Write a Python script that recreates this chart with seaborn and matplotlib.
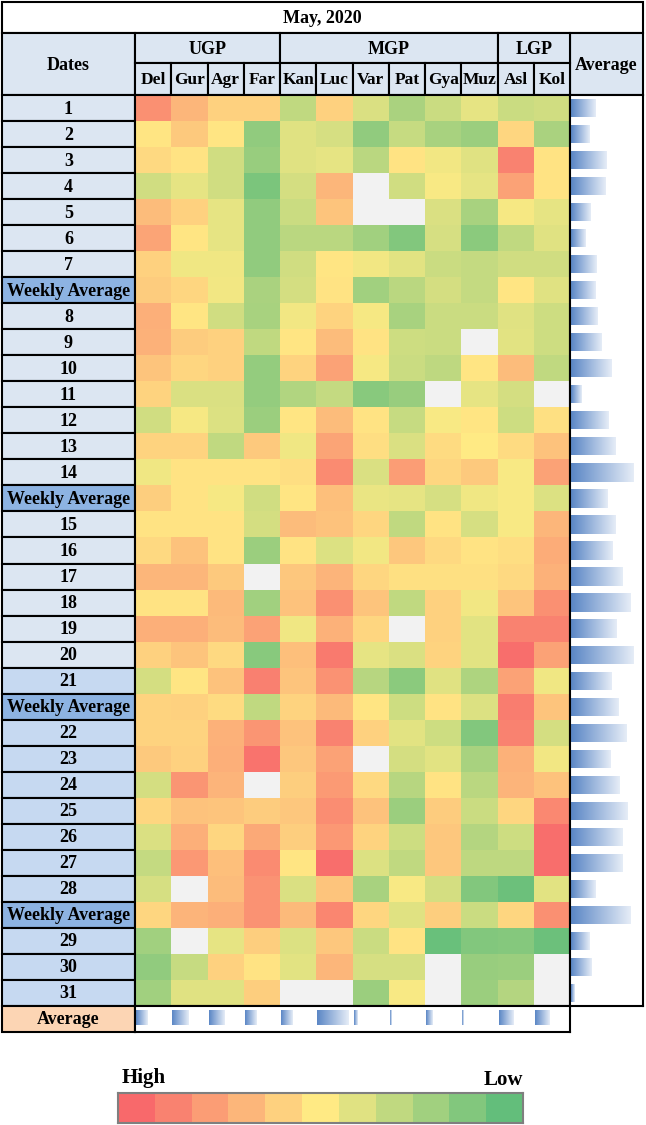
import numpy as np
import pandas as pd
import matplotlib
matplotlib.use('Agg')
import matplotlib.pyplot as plt
import seaborn as sns
from matplotlib.colors import LinearSegmentedColormap
from matplotlib.patches import Rectangle

nan = np.nan

# ---- data (levels: 0 = low/green, 10 = high/red) ----
stations = ['Del', 'Gur', 'Agr', 'Far', 'Kan', 'Luc', 'Var', 'Pat', 'Gya', 'Muz', 'Asl', 'Kol']
regions = ['UGP', 'MGP', 'LGP']
region_sizes = [4, 6, 2]

row_labels = (['1', '2', '3', '4', '5', '6', '7', 'Weekly Average',
               '8', '9', '10', '11', '12', '13', '14', 'Weekly Average',
               '15', '16', '17', '18', '19', '20', '21', 'Weekly Average',
               '22', '23', '24', '25', '26', '27', '28', 'Weekly Average',
               '29', '30', '31'])

del_vals = [8.5, 5.2, 5.7, 3.5, 6.8, 7.7, 6, 6.2, 7.3, 7.2, 6.5, 5.9, 3.5, 5.9, 4.5, 6.1, 5.3, 5.7, 7, 5.3, 7.3, 6, 3.6, 5.9, 5.9, 6.3, 3.6, 5.8, 3.8, 3.1, 3.7, 5.8, 2, 1.5, 2]
gur_vals = [7, 6.3, 5.3, 4.2, 6, 5.2, 4.5, 5.8, 5.2, 6.2, 5.8, 3.8, 4.7, 5.9, 5.3, 5.3, 5.3, 6.6, 7, 5.3, 7.3, 6.5, 5.2, 6, 5.9, 6, 8.3, 6.6, 7.3, 8.2, nan, 7.1, nan, 3.2, 4]
agr_vals = [6, 5.2, 3.5, 3.5, 4.2, 4.2, 4.5, 4.6, 3.5, 6, 6, 3.8, 3.9, 3, 5.3, 4.7, 5.3, 5.3, 6.3, 6.9, 6.8, 5.7, 6.6, 5.6, 7.2, 7.3, 7.1, 6.5, 5.8, 6.7, 6.8, 7.3, 4.2, 6, 4]
far_vals = [6, 1.5, 1.7, 0.8, 1.5, 1.5, 1.5, 2.3, 2.2, 3, 1.6, 1.6, 1.8, 6.3, 5.3, 3.5, 3.6, 1.8, nan, 2, 7.8, 1.2, 9.1, 3, 8.3, 9.6, nan, 6.2, 7.5, 8.7, 8.4, 8.4, 6.1, 5.3, 6.1]
kan_vals = [3, 4, 4, 3.6, 3.3, 2.8, 3.5, 3.6, 4.6, 5.2, 5.9, 2.5, 5.2, 4.5, 5.5, 5.2, 6.8, 5.3, 6.4, 6.6, 4.5, 6.7, 6.5, 5.9, 6.6, 6.4, 6.1, 6.4, 6.1, 5.2, 3.8, 6.9, 3.9, 4.1, nan]
luc_vals = [6, 3.7, 4.2, 7, 6.5, 2.8, 5.2, 5.3, 5.9, 6.8, 7.8, 3.1, 6.8, 7.7, 8.7, 6.7, 6.6, 3.9, 7.1, 8.5, 7.2, 9.3, 8.4, 6.9, 9, 7.8, 8.1, 8.6, 8.2, 9.8, 6.5, 8.9, 6.4, 7, nan]
var_vals = [3.8, 1.5, 2.8, nan, nan, 2, 4.6, 2, 4.7, 5.3, 4.7, 1.2, 5.3, 5.5, 3.8, 4.3, 5.8, 4.6, 5.8, 6.5, 5.8, 4.2, 2.7, 5.2, 6, nan, 5.7, 6.6, 5.9, 3.9, 2.2, 5.8, 3.3, 3.7, 1.8]
pat_vals = [2.3, 3.2, 5.3, 3.5, nan, 1, 4.1, 2.8, 2.2, 3.4, 3.3, 1.7, 3.2, 3.8, 8, 4.2, 3, 6.4, 5.4, 3, nan, 3.8, 1.3, 3.4, 4.1, 3.6, 2.7, 1.8, 3.4, 3, 4.8, 4, 5.3, 3.7, 4.8]
gya_vals = [3.3, 2.2, 4.6, 4.8, 3.8, 3.7, 3.3, 3.6, 3.3, 3.3, 2.9, nan, 4.8, 5.6, 5.8, 3.7, 5.3, 5.7, 5.4, 6, 6, 5.9, 4, 5.3, 3.4, 4.1, 5.3, 6.2, 6.4, 6.4, 3.6, 6.1, 0.2, nan, nan]
muz_vals = [4.2, 1.8, 4, 4.2, 2.2, 1.3, 3.1, 3.1, 3.3, nan, 5.2, 4.2, 5.2, 5, 6.3, 4.5, 3.7, 5.3, 5.4, 4.6, 4.1, 4.1, 2.4, 3.9, 1, 2.2, 2.8, 3.3, 2.6, 2.9, 1, 3.3, 1, 1.7, 1.8]
asl_vals = [3.3, 5.8, 9, 7.8, 4.7, 3, 3.5, 5.2, 4, 4.1, 6.8, 3.6, 3.4, 5.6, 4.8, 4.8, 4.8, 5.5, 5.7, 6.5, 9, 9.8, 7.8, 9.2, 9, 7.2, 7.1, 5.8, 3.4, 2.9, 0.3, 5.8, 1.1, 1.8, 2.6]
kol_vals = [3.5, 2.3, 5.3, 5.3, 4.2, 4, 3.5, 4, 3.4, 3.4, 3, nan, 5.4, 6.6, 7.8, 3.9, 7, 7.4, 7.2, 8.5, 9, 7.8, 4.5, 6.5, 3.6, 4.6, 6.6, 8.8, 9.8, 9.8, 4.1, 8.5, 0.3, nan, nan]

# data-bar lengths of the Average column (per row) and Average row (per station)
row_avg = [25, 19, 36, 35, 20, 15, 26, 25, 27, 31, 41, 11, 38, 45, 63, 37,
           45, 42, 52, 60, 46, 63, 41, 48, 56, 40, 49, 57, 52, 52, 25, 60, 19, 21, 4]
col_avg = [12, 17, 16, 12, 12, 32, 4, 2, 7, 2, 15, 15]

legend_levels = [10, 9, 8, 7, 6, 5, 4, 3, 2, 1, 0]

# ---- build frames ----
heat = pd.DataFrame({'Del': del_vals, 'Gur': gur_vals, 'Agr': agr_vals, 'Far': far_vals,
                     'Kan': kan_vals, 'Luc': luc_vals, 'Var': var_vals, 'Pat': pat_vals,
                     'Gya': gya_vals, 'Muz': muz_vals, 'Asl': asl_vals, 'Kol': kol_vals})[stations]
avg_df = pd.DataFrame({'row': np.arange(len(row_avg)), 'avg': row_avg})

plt.rcParams['font.family'] = ['Liberation Serif', 'DejaVu Serif']

cmap = LinearSegmentedColormap.from_list('rdylgn_xl', ['#63BE7B', '#FFEB84', '#F8696B'])
bar_cmap = LinearSegmentedColormap.from_list('databar', ['#5a86c5', '#e6edf7'])

W, H = 646, 1125
fig = plt.figure(figsize=(W / 100, H / 100), dpi=100)


def px_axes(x0, y0, x1, y1):
    return fig.add_axes([x0 / W, 1 - y1 / H, (x1 - x0) / W, (y1 - y0) / H])


# layout in pixels
L0, L1 = 2, 135
HX0, HX1 = 135, 570
AX1 = 643
Y_T0, Y_H0, Y_H1, Y_D0, Y_D1, Y_A1 = 2, 33, 63, 95, 1006, 1032
n_rows = len(row_labels)
row_h = (Y_D1 - Y_D0) / n_rows
col_w = (HX1 - HX0) / len(stations)
LW = 1.5
HEAD = '#dce6f2'
FS = 13

tab = px_axes(0, 0, W, H)
tab.set_xlim(0, W)
tab.set_ylim(H, 0)
tab.axis('off')


def cell(x0, y0, x1, y1, fc, text=None, fs=FS):
    tab.add_patch(Rectangle((x0, y0), x1 - x0, y1 - y0, facecolor=fc, edgecolor='black', lw=LW))
    if text:
        tab.text((x0 + x1) / 2, (y0 + y1) / 2 + 1, text, ha='center', va='center',
                 fontsize=fs, fontweight='bold')


# header
cell(L0, Y_T0, AX1, Y_H0, 'white', 'May, 2020')
cell(L0, Y_H0, L1, Y_D0, HEAD, 'Dates')
cell(HX1, Y_H0, AX1, Y_D0, HEAD, 'Average')
start = 0
for reg, n in zip(regions, region_sizes):
    cell(HX0 + start * col_w, Y_H0, HX0 + (start + n) * col_w, Y_H1, HEAD, reg)
    start += n
for i, st in enumerate(stations):
    cell(HX0 + i * col_w, Y_H1, HX0 + (i + 1) * col_w, Y_D0, HEAD, st, fs=12.5)

# row labels
for r, lab in enumerate(row_labels):
    if lab == 'Weekly Average':
        fc = '#8db3e2'
    else:
        fc = '#dce6f2' if int(lab) <= 20 else '#c6d9f1'
    cell(L0, Y_D0 + r * row_h, L1, Y_D0 + (r + 1) * row_h, fc, lab)
cell(L0, Y_D1, L1, Y_A1, '#fcd5b4', 'Average')

# heatmap
hax = px_axes(HX0, Y_D0, HX1, Y_D1)
sns.heatmap(heat, ax=hax, cmap=cmap, vmin=0, vmax=10, cbar=False,
            xticklabels=False, yticklabels=False)
hax.set_facecolor('#f2f2f2')
hax.set_xlabel('')
hax.set_ylabel('')
for s in hax.spines.values():
    s.set_visible(True)
    s.set_linewidth(LW)


def gradient_fill(ax, patches):
    g = np.linspace(0, 1, 256).reshape(1, -1)
    for p in patches:
        x, y = p.get_x(), p.get_y()
        w, h = p.get_width(), p.get_height()
        im = ax.imshow(g, cmap=bar_cmap, extent=[x, x + w, y + h, y], aspect='auto',
                       interpolation='bilinear', zorder=2)
        im.set_clip_path(p)
        p.set_facecolor('none')
        p.set_edgecolor('none')


# average column (data bars)
bax = px_axes(HX1, Y_D0, AX1, Y_D1)
sns.barplot(data=avg_df, x='avg', y='row', orient='h', ax=bax, color='#5a86c5', width=0.7)
gradient_fill(bax, list(bax.patches))
bax.set_xlim(-1, AX1 - HX1)
bax.set_ylim(n_rows - 0.5, -0.5)
bax.set_xticks([])
bax.set_yticks([])
bax.set_xlabel('')
bax.set_ylabel('')
bax.set_facecolor('white')
for s in bax.spines.values():
    s.set_visible(True)
    s.set_linewidth(LW)

# average row (data bars)
aax = px_axes(HX0, Y_D1, HX1, Y_A1)
bars = aax.barh(np.zeros(len(col_avg)) - 0.05, col_avg, left=np.arange(len(col_avg)) * col_w + 1,
                height=0.6, color='#5a86c5')
gradient_fill(aax, list(bars))
aax.set_xlim(0, HX1 - HX0)
aax.set_ylim(0.5, -0.5)
aax.set_xticks([])
aax.set_yticks([])
for s in aax.spines.values():
    s.set_visible(True)
    s.set_linewidth(LW)

# legend
lax = px_axes(118, 1093, 523, 1123)
sns.heatmap(np.array([legend_levels]), ax=lax, cmap=cmap, vmin=0, vmax=10, cbar=False,
            xticklabels=False, yticklabels=False)
for s in lax.spines.values():
    s.set_visible(True)
    s.set_linewidth(LW)
    s.set_edgecolor('#7f7f7f')
tab.text(122, 1078, 'High', ha='left', va='center', fontsize=15, fontweight='bold')
tab.text(523, 1080, 'Low', ha='right', va='center', fontsize=15, fontweight='bold')

fig.savefig('out.png', dpi=100, facecolor='white')
